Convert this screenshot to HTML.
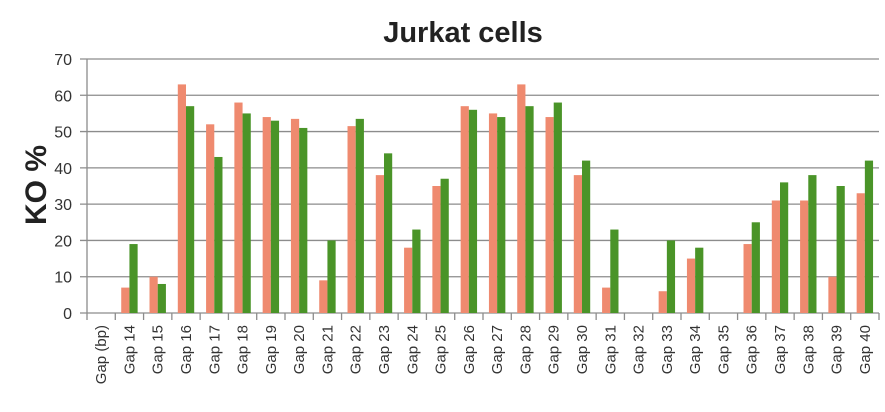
<!DOCTYPE html>
<html><head><meta charset="utf-8"><style>
body{margin:0;background:#fff;}
svg{display:block;font-family:"Liberation Sans",sans-serif;}
</style></head><body>
<svg id="chart" width="885" height="412" viewBox="0 0 885 412">
<text x="463" y="42" text-anchor="middle" font-size="29" font-weight="bold" fill="#222">Jurkat cells</text>
<text transform="translate(46,185) rotate(-90)" text-anchor="middle" font-size="30" font-weight="bold" fill="#222">KO %</text>
<g id="grid"></g><g id="bars"></g><g id="axes"></g>
</svg>
<script>
const categories=["Gap (bp)","Gap 14","Gap 15","Gap 16","Gap 17","Gap 18","Gap 19","Gap 20","Gap 21","Gap 22","Gap 23","Gap 24","Gap 25","Gap 26","Gap 27","Gap 28","Gap 29","Gap 30","Gap 31","Gap 32","Gap 33","Gap 34","Gap 35","Gap 36","Gap 37","Gap 38","Gap 39","Gap 40"];
const seriesA=[0,7,10,63,52,58,54,53.5,9,51.5,38,18,35,57,55,63,54,38,7,0,6,15,0,19,31,31,10,33];
const seriesB=[0,19,8,57,43,55,53,51,20,53.5,44,23,37,56,54,57,58,42,23,0,20,18,0,25,36,38,35,42];
const yTicks=[0,10,20,30,40,50,60,70];
const NS="http://www.w3.org/2000/svg";
const x0=87,x1=879,yB=313,yT=59,yMax=70;
const cw=(x1-x0)/categories.length;
const y=v=>yB-(v/yMax)*(yB-yT);
const xc=i=>x0+i*cw;
function mk(t,a,p){const e=document.createElementNS(NS,t);for(const k in a)e.setAttribute(k,a[k]);p.appendChild(e);return e;}
const grid=document.getElementById('grid'),bars=document.getElementById('bars'),axes=document.getElementById('axes');
yTicks.forEach(t=>{
 const l=mk('line',{x1:80,x2:x1,y1:y(t),y2:y(t),stroke:'#8c8c8c','stroke-width':1.3},grid);
 
 
 const tx=mk('text',{x:72,y:y(t)+6,'text-anchor':'end','font-size':16,fill:'#333'},axes);
 tx.textContent=t;
 
 
});
categories.forEach((c,i)=>{
 const bw=cw*0.29;
 const xa=xc(i)+cw*0.21;
 if(seriesA[i]>0){const r=mk('rect',{x:xa,y:y(seriesA[i]),width:bw,height:yB-y(seriesA[i]),fill:'#ef8a6f'},bars);
 
 }
 if(seriesB[i]>0){const r=mk('rect',{x:xa+bw,y:y(seriesB[i]),width:bw,height:yB-y(seriesB[i]),fill:'#4a9428'},bars);
 
 }
 const t=mk('line',{x1:xc(i),x2:xc(i),y1:yB,y2:yB+7,stroke:'#8c8c8c','stroke-width':1.3},axes);
 
 
 const lx=xc(i)+cw/2+5;
 const tx=mk('text',{x:lx,y:yB+12,'text-anchor':'end','font-size':15,fill:'#333',transform:`rotate(-90 ${lx} ${yB+12})`},axes);
 tx.textContent=c;
 
 
});
const lastTick=mk('line',{x1:x1,x2:x1,y1:yB,y2:yB+7,stroke:'#8c8c8c','stroke-width':1.3},axes);


const ya=mk('line',{x1:x0,x2:x0,y1:yT,y2:yB,stroke:'#8c8c8c','stroke-width':1.3},axes);


</script>
</body></html>
